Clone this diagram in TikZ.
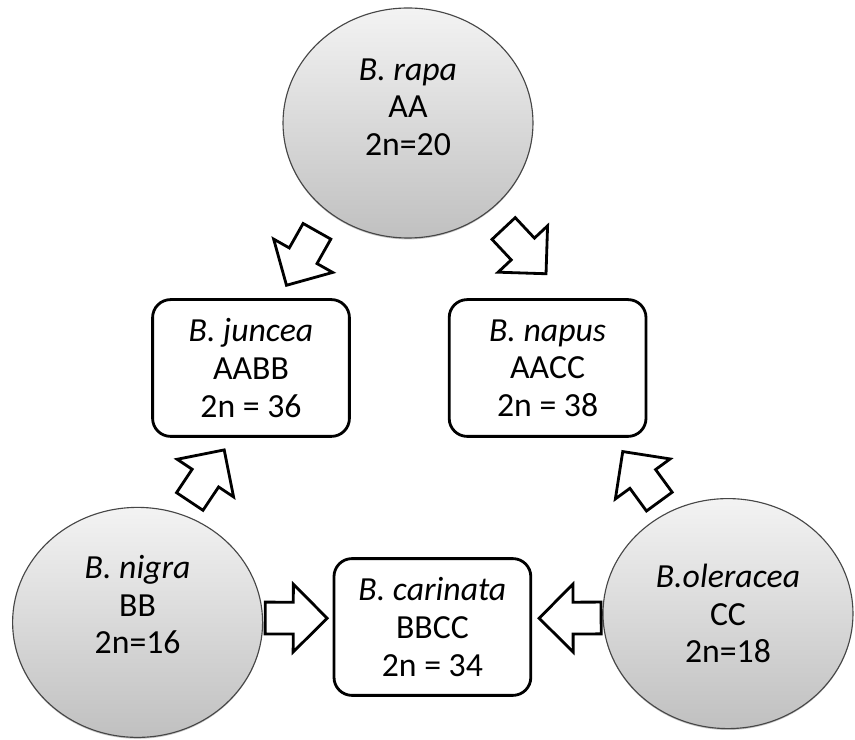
\documentclass[tikz,border=0pt]{standalone}
\usepackage{fontspec}
\setmainfont{Carlito}
\usepackage{tikz}
\usetikzlibrary{shapes.geometric,shapes.arrows,shadows}
\definecolor{GenomeTop}{RGB}{243,243,243}
\definecolor{GenomeBottom}{RGB}{192,192,192}
\definecolor{GenomeEdge}{RGB}{70,70,70}

\begin{document}
\begin{tikzpicture}[
        genome/.style={ellipse, draw=GenomeEdge, line width=0.8pt,
            top color=GenomeTop, bottom color=GenomeBottom,
            minimum width=6.25cm, minimum height=5.75cm,
            drop shadow={shadow xshift=0pt, shadow yshift=-1pt, opacity=0.45}},
        genometext/.style={align=center, font=\fontsize{24}{26.7}\selectfont},
        hybrid/.style={draw, line width=2pt, rounded corners=0.45cm, fill=white,
            minimum width=4.92cm, minimum height=3.42cm, align=center,
            font=\fontsize{24}{26.7}\selectfont},
        cross/.style={single arrow, draw, line width=2pt, fill=white,
            minimum height=1.55cm, single arrow head extend=0.45cm,
            inner xsep=0pt, inner ysep=0.3625cm, sloped, allow upside down,
            anchor=tail}
    ]
        \useasboundingbox (0,0) rectangle (21.375,18.5);

        % Diploid species
        \node[genome] (rapa) at (10.2,15.425) {};
        \node[genome] (nigra) at (3.44,2.94) {};
        \node[genome] (oleracea) at (18.2,3.16) {};
        \node[genometext] (rapaT) at ([yshift=0.4cm]rapa.center) {\textit{B. rapa}\\AA\\2n=20};
        \node[genometext] (nigraT) at ([yshift=0.44cm]nigra.center) {\textit{B. nigra}\\BB\\2n=16};
        \node[genometext] (oleraceaT) at (oleracea.center) {\textit{B.oleracea}\\CC\\2n=18};

        % Amphidiploid species
        \node[hybrid] (juncea) at (6.275,9.3) {\textit{B. juncea}\\AABB\\2n = 36};
        \node[hybrid] (napus) at (13.69,9.3) {\textit{B. napus}\\AACC\\2n = 38};
        \node[hybrid] (carinata) at (10.81,2.825) {\textit{B. carinata}\\BBCC\\2n = 34};

        % Block arrows
        \path (rapa.228) -- (juncea.68) node[cross, pos=0.21] (rj) {};
        \path (rapa.312) -- (napus.73) node[cross, pos=0.18] (rn) {};
        \path (nigra.68) -- (juncea.255) node[cross, pos=0.15] (nj) {};
        \path (oleracea.121) -- (napus.313) node[cross, pos=0.13] (on) {};
        \path (nigra.2) -- (carinata.175) node[cross, pos=0.01] (nc) {};
        \path (oleracea.182) -- (carinata.5) node[cross, pos=0] (oc) {};
    \end{tikzpicture}
\end{document}
